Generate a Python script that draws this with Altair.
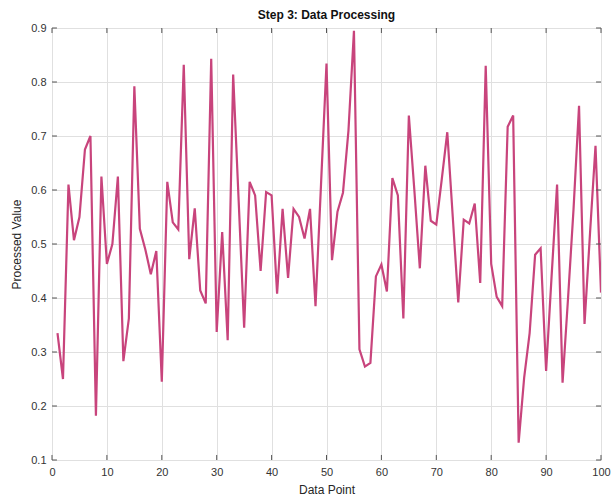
import altair as alt
import pandas as pd

values = [
    0.335, 0.25, 0.61, 0.507, 0.55, 0.675, 0.70, 0.182, 0.625, 0.463,
    0.50, 0.625, 0.283, 0.362, 0.792, 0.528, 0.49, 0.444, 0.487, 0.245,
    0.615, 0.54, 0.527, 0.832, 0.472, 0.566, 0.414, 0.39, 0.843, 0.337,
    0.522, 0.322, 0.814, 0.58, 0.345, 0.615, 0.59, 0.45, 0.596, 0.59,
    0.408, 0.565, 0.437, 0.565, 0.55, 0.51, 0.565, 0.385, 0.61, 0.834,
    0.47, 0.56, 0.595, 0.71, 0.895, 0.305, 0.273, 0.28, 0.44, 0.462,
    0.412, 0.622, 0.59, 0.362, 0.738, 0.60, 0.455, 0.645, 0.543, 0.536,
    0.62, 0.707, 0.55, 0.392, 0.545, 0.538, 0.575, 0.428, 0.83, 0.463,
    0.402, 0.385, 0.717, 0.738, 0.132, 0.252, 0.335, 0.48, 0.492, 0.265,
    0.44, 0.61, 0.243, 0.40, 0.565, 0.756, 0.352, 0.52, 0.682, 0.41,
]
points = list(range(1, len(values) + 1))
x_ticks = [0, 10, 20, 30, 40, 50, 60, 70, 80, 90, 100]
y_ticks = [0.1, 0.2, 0.3, 0.4, 0.5, 0.6, 0.7, 0.8, 0.9]

df = pd.DataFrame({"Data Point": points, "Processed Value": values})

FONT = "Liberation Sans"
xscale = alt.Scale(domain=[0, 100], nice=False, zero=False)
yscale = alt.Scale(domain=[0.1, 0.9], nice=False, zero=False)

line = alt.Chart(df).mark_line(color="#c8447c", strokeWidth=2.2, clip=True).encode(
    x=alt.X("Data Point:Q", scale=xscale,
            axis=alt.Axis(values=x_ticks, title="Data Point", grid=True,
                          gridColor="#e0e0e0", tickSize=0, labelPadding=6,
                          titlePadding=7, domain=False, labelFlush=False,
                          labelFont=FONT, titleFont=FONT,
                          labelFontSize=11, titleFontSize=12, labelColor="#333333",
                          titleColor="#262626", titleFontWeight="normal")),
    y=alt.Y("Processed Value:Q", scale=yscale,
            axis=alt.Axis(values=y_ticks, title="Processed Value", grid=True,
                          gridColor="#e0e0e0", tickSize=0, labelPadding=6,
                          titlePadding=7, domain=False, format=".1f", labelFlush=False,
                          labelFont=FONT, titleFont=FONT, labelFontSize=11,
                          titleFontSize=12, labelColor="#333333",
                          titleColor="#262626", titleFontWeight="normal")),
)

# inward tick marks on all four sides (MATLAB style)
tb = pd.DataFrame({"x": x_ticks * 2,
                   "y1": [0.1] * len(x_ticks) + [0.9] * len(x_ticks),
                   "y2": [0.1093] * len(x_ticks) + [0.8907] * len(x_ticks)})
lr = pd.DataFrame({"y": y_ticks * 2,
                   "x1": [0] * len(y_ticks) + [100] * len(y_ticks),
                   "x2": [0.9] * len(y_ticks) + [99.1] * len(y_ticks)})
ticks_x = alt.Chart(tb).mark_rule(color="#555555", strokeWidth=1).encode(
    x=alt.X("x:Q", scale=xscale), y=alt.Y("y1:Q", scale=yscale), y2="y2:Q")
ticks_y = alt.Chart(lr).mark_rule(color="#555555", strokeWidth=1).encode(
    y=alt.Y("y:Q", scale=yscale), x=alt.X("x1:Q", scale=xscale), x2="x2:Q")

chart = alt.layer(line, ticks_x, ticks_y).properties(
    width=549, height=432,
    title=alt.Title("Step 3: Data Processing", font=FONT, fontSize=12,
                    fontWeight="bold", color="#111111", anchor="middle", offset=0),
    autosize=alt.AutoSizeParams(type="none"),
    padding={"left": 52, "top": 28, "right": 10, "bottom": 40},
).configure_view(stroke="#5a5a5a", strokeWidth=1.5).configure(background="white")

chart.save("out.html", embed_options={"renderer": "svg", "actions": False})
